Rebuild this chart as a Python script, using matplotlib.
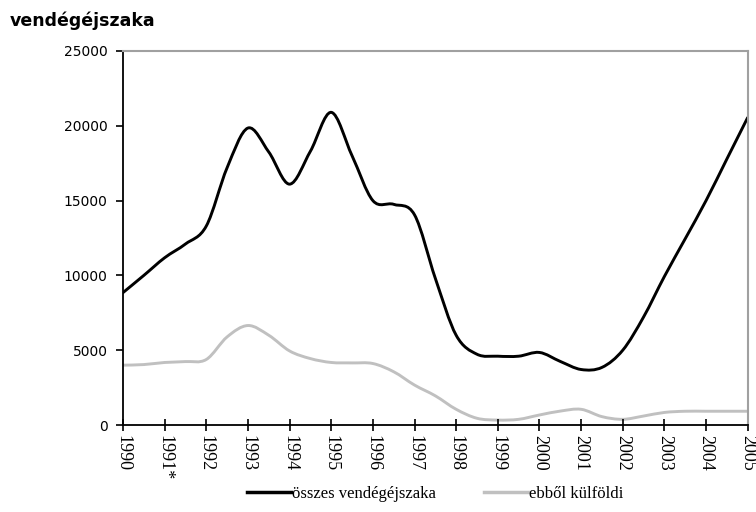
import numpy as np
import matplotlib
matplotlib.use("Agg")
import matplotlib.pyplot as plt
from matplotlib.path import Path
from matplotlib.patches import PathPatch
from matplotlib.lines import Line2D

# tick positions / labels (annual)
tick_years = [1990, 1991, 1992, 1993, 1994, 1995, 1996, 1997, 1998, 1999,
              2000, 2001, 2002, 2003, 2004, 2005]
tick_labels = ["1990", "1991*", "1992", "1993", "1994", "1995", "1996", "1997",
               "1998", "1999", "2000", "2001", "2002", "2003", "2004", "2005"]

# values at half-year steps
t = [1990.0, 1990.5, 1991.0, 1991.5, 1992.0, 1992.5, 1993.0, 1993.5,
     1994.0, 1994.5, 1995.0, 1995.5, 1996.0, 1996.5, 1997.0, 1997.5,
     1998.0, 1998.5, 1999.0, 1999.5, 2000.0, 2000.5, 2001.0, 2001.5,
     2002.0, 2002.5, 2003.0, 2003.5, 2004.0, 2004.5, 2005.0]
osszes = [8850, 10000, 11180, 12100, 13300, 17200, 19850, 18250,
          16100, 18300, 20900, 18000, 15000, 14750, 14050, 9800,
          6000, 4730, 4600, 4600, 4850, 4250, 3710, 3850,
          5000, 7220, 9930, 12450, 15000, 17780, 20550]
kulfoldi = [4000, 4040, 4180, 4240, 4380, 5890, 6650, 6000,
            4950, 4440, 4180, 4150, 4110, 3560, 2670, 1950,
            1050, 450, 330, 380, 670, 930, 1050, 560,
            380, 600, 840, 920, 920, 920, 920]
series_names = ["összes vendégéjszaka", "ebből külföldi"]
colors = ["#000000", "#c0c0c0"]


def smooth_path(x, y):
    # Excel-style smoothed line: cubic Bezier segments (Catmull-Rom control points)
    x = np.asarray(x, float)
    y = np.asarray(y, float)
    n = len(x)
    verts = [(x[0], y[0])]
    codes = [Path.MOVETO]
    for i in range(n - 1):
        p0 = np.array([x[max(i - 1, 0)], y[max(i - 1, 0)]])
        p1 = np.array([x[i], y[i]])
        p2 = np.array([x[i + 1], y[i + 1]])
        p3 = np.array([x[min(i + 2, n - 1)], y[min(i + 2, n - 1)]])
        c1 = p1 + (p2 - p0) / 6.0
        c2 = p2 - (p3 - p1) / 6.0
        verts += [tuple(c1), tuple(c2), tuple(p2)]
        codes += [Path.CURVE4, Path.CURVE4, Path.CURVE4]
    return Path(verts, codes)


fig = plt.figure(figsize=(7.56, 5.12), dpi=100)
ax = fig.add_axes([0.1627, 0.1699, 0.8263, 0.7305])

for vals, col in zip([kulfoldi, osszes], [colors[1], colors[0]]):
    patch = PathPatch(smooth_path(t, vals), facecolor="none", edgecolor=col,
                      lw=2.1, capstyle="round", joinstyle="round")
    ax.add_patch(patch)

ax.set_xlim(1990, 2005)
ax.set_ylim(0, 25000)
ax.set_yticks([0, 5000, 10000, 15000, 20000, 25000])
ax.set_yticklabels(["0", "5000", "10000", "15000", "20000", "25000"],
                   fontfamily="DejaVu Sans", fontsize=10)
ax.set_xticks(tick_years)
ax.set_xticklabels(tick_labels, rotation=270, fontfamily="Liberation Serif",
                   fontsize=13, va="top", ha="center")

ax.tick_params(axis="y", direction="out", length=5, width=1.2, color="black", pad=6)
ax.tick_params(axis="x", direction="inout", length=8, width=1.2, color="black", pad=3)

for side in ["top", "right"]:
    ax.spines[side].set_color("#a0a0a0")
    ax.spines[side].set_linewidth(1.5)
for side in ["left", "bottom"]:
    ax.spines[side].set_color("black")
    ax.spines[side].set_linewidth(1.3)

fig.text(0.013, 0.96, "vendégéjszaka", fontfamily="DejaVu Sans",
         fontweight="bold", fontsize=12.5, va="center", ha="left")

handles = [Line2D([], [], color=colors[0], lw=2.5),
           Line2D([], [], color=colors[1], lw=2.5)]
leg = fig.legend(handles, series_names, loc="center", bbox_to_anchor=(0.576, 0.035),
                 ncol=2, frameon=False, prop={"family": "Liberation Serif", "size": 12},
                 handlelength=2.6, handletextpad=0.1, columnspacing=2.9)

fig.savefig("out.png", dpi=100)
